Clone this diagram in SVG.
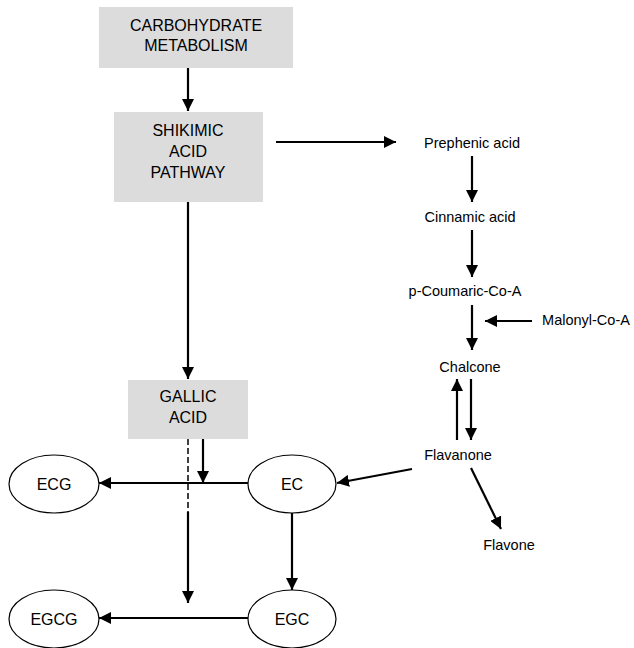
<svg xmlns="http://www.w3.org/2000/svg" width="634" height="648" viewBox="0 0 634 648">
<style>
.box{fill:#dcdcdc;stroke:none}
.ell{fill:#fff;stroke:#000;stroke-width:1.2}
.t{font-family:"Liberation Sans",Arial,sans-serif;font-size:16px;fill:#000;text-anchor:middle}
.s{font-family:"Liberation Sans",Arial,sans-serif;font-size:14.5px;fill:#000;text-anchor:middle}
.c{stroke:#000;stroke-width:2.2;fill:none}
</style>
<defs>
<marker id="ah" markerWidth="12" markerHeight="12" refX="10" refY="5" orient="auto" markerUnits="userSpaceOnUse" viewBox="0 0 10 10">
<path d="M0,0 L10,5 L0,10 Z" fill="#000"/>
</marker>
</defs>
<rect width="634" height="648" fill="#fff"/>
<g id="carbohydrate">
<rect class="box" x="99" y="7" width="194" height="61"/>
<text class="t" x="196" y="31">CARBOHYDRATE</text>
<text class="t" x="196" y="51">METABOLISM</text>
</g>
<g id="shikimic">
<rect class="box" x="114" y="112" width="149" height="90"/>
<text class="t" x="188" y="136">SHIKIMIC</text>
<text class="t" x="188" y="157">ACID</text>
<text class="t" x="188" y="178">PATHWAY</text>
</g>
<g id="gallic">
<rect class="box" x="128" y="380" width="120" height="59"/>
<text class="t" x="188" y="402">GALLIC</text>
<text class="t" x="188" y="423">ACID</text>
</g>
<g id="prephenic"><text class="s" x="472" y="148">Prephenic acid</text></g>
<g id="cinnamic"><text class="s" x="470" y="222">Cinnamic acid</text></g>
<g id="coumaric"><text class="s" x="465" y="296">p-Coumaric-Co-A</text></g>
<g id="malonyl"><text class="s" x="586" y="325">Malonyl-Co-A</text></g>
<g id="chalcone"><text class="s" x="470" y="372">Chalcone</text></g>
<g id="flavanone"><text class="s" x="458" y="460">Flavanone</text></g>
<g id="flavone"><text class="s" x="509" y="550">Flavone</text></g>
<g id="ECG"><ellipse class="ell" cx="54" cy="484" rx="45" ry="29"/><text class="t" x="54" y="490">ECG</text></g>
<g id="EC"><ellipse class="ell" cx="292" cy="484" rx="44" ry="29"/><text class="t" x="292" y="490">EC</text></g>
<g id="EGCG"><ellipse class="ell" cx="54" cy="619" rx="45" ry="29"/><text class="t" x="54" y="625">EGCG</text></g>
<g id="EGC"><ellipse class="ell" cx="292" cy="619" rx="44" ry="29"/><text class="t" x="292" y="625">EGC</text></g>
<g id="connectors">
<line class="c" x1="188" y1="68" x2="188" y2="111" marker-end="url(#ah)"/>
<line class="c" x1="188" y1="202" x2="188" y2="379" marker-end="url(#ah)"/>
<line class="c" x1="276" y1="142" x2="396" y2="142" marker-end="url(#ah)"/>
<line class="c" x1="472" y1="156" x2="472" y2="202" marker-end="url(#ah)"/>
<line class="c" x1="472" y1="230" x2="472" y2="277" marker-end="url(#ah)"/>
<line class="c" x1="472" y1="305" x2="472" y2="350" marker-end="url(#ah)"/>
<line class="c" x1="532" y1="321" x2="485" y2="321" marker-end="url(#ah)"/>
<line class="c" x1="457" y1="440" x2="457" y2="379" marker-end="url(#ah)"/>
<line class="c" x1="471" y1="379" x2="471" y2="440" marker-end="url(#ah)"/>
<line class="c" x1="471" y1="468" x2="501" y2="529" marker-end="url(#ah)"/>
<line class="c" x1="412" y1="469" x2="337" y2="483" marker-end="url(#ah)"/>
<line class="c" x1="248" y1="483" x2="99" y2="483" marker-end="url(#ah)"/>
<line class="c" x1="203" y1="439" x2="203" y2="483" marker-end="url(#ah)"/>
<line x1="188" y1="439" x2="188" y2="512" stroke="#000" stroke-width="1.5" stroke-dasharray="6,3"/>
<line class="c" x1="188" y1="512" x2="188" y2="603" marker-end="url(#ah)"/>
<line class="c" x1="292" y1="513" x2="292" y2="590" marker-end="url(#ah)"/>
<line class="c" x1="248" y1="618" x2="99" y2="618" marker-end="url(#ah)"/>
</g>
</svg>
